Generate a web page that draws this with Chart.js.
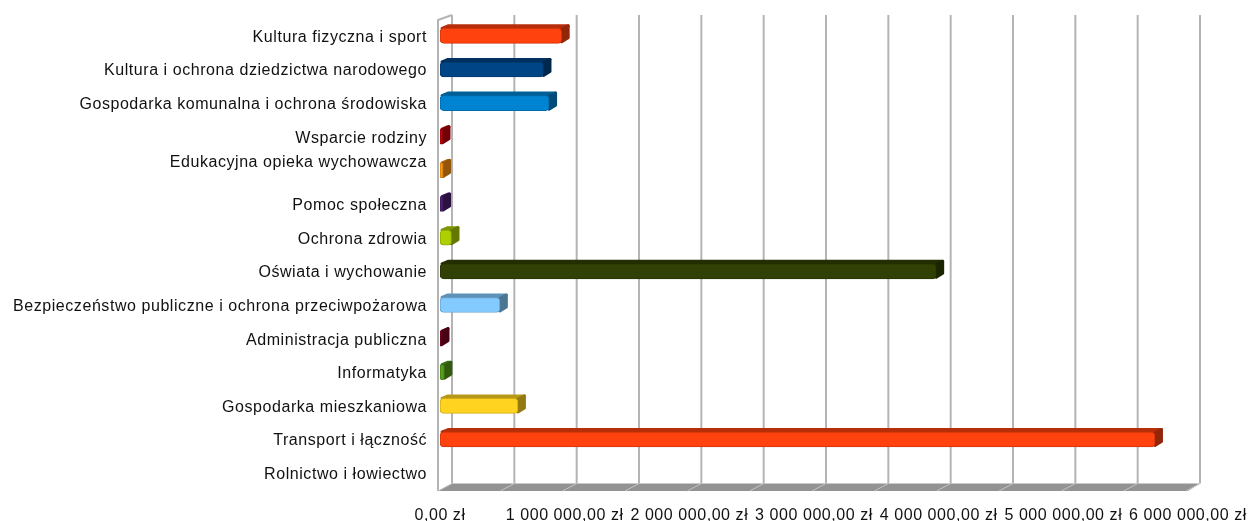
<!DOCTYPE html>
<html><head><meta charset="utf-8">
<script src="https://cdn.jsdelivr.net/npm/chart.js@4"></script>
<style>html,body{margin:0;padding:0;background:#fff}canvas{display:block;filter:blur(.45px)}</style>
</head><body><canvas id="c" width="1248" height="521"></canvas>
<script>
const categories = ["Kultura fizyczna i sport","Kultura i ochrona dziedzictwa narodowego","Gospodarka komunalna i ochrona środowiska","Wsparcie rodziny","Edukacyjna opieka wychowawcza","Pomoc społeczna","Ochrona zdrowia","Oświata i wychowanie","Bezpieczeństwo publiczne i ochrona przeciwpożarowa","Administracja publiczna","Informatyka","Gospodarka mieszkaniowa","Transport i łączność","Rolnictwo i łowiectwo"];
const values = [976000,830000,875000,20000,25000,25000,92000,3980000,480000,12000,35000,625000,5735000,0];
const colors = ["#ff420e","#004586","#0084d1","#c5000b","#ff950e","#4b1f6f","#aecf00","#314004","#83caff","#7e0021","#579d1c","#ffd320","#ff420e","#004586"];
const wrappedLabels = ["Edukacyjna opieka wychowawcza"];

function shade(hex,f){const n=parseInt(hex.slice(1),16);
  return `rgb(${(n>>16&255)*f|0},${(n>>8&255)*f|0},${(n&255)*f|0})`;}

const DX=12, DY=7, TOP=15, BACK_BOTTOM=483.5;
const scene3d={id:'scene3d',
  beforeDraw(ch){ch.ctx.letterSpacing='0.56px';},
  beforeDatasetsDraw(ch){
    const c=ch.ctx,x=ch.scales.x,a=ch.chartArea;
    c.save();
    c.fillStyle='#939393';
    c.beginPath();c.moveTo(a.left-2,a.bottom+1);c.lineTo(a.left+DX,BACK_BOTTOM);c.lineTo(a.right+DX,BACK_BOTTOM);c.lineTo(a.right,a.bottom+1);c.closePath();c.fill();
    c.strokeStyle='#b4b4b4';c.lineWidth=2;
    x.ticks.forEach(t=>{const p=x.getPixelForValue(t.value)+DX;
      c.beginPath();c.moveTo(p,TOP);c.lineTo(p,BACK_BOTTOM);c.stroke();});
    c.beginPath();c.moveTo(a.left+DX,TOP);c.lineTo(a.left-2,20);c.lineTo(a.left-2,a.bottom+1);c.stroke();
    c.strokeStyle='#c4c4c4';c.lineWidth=1;
    x.ticks.forEach(t=>{const p=x.getPixelForValue(t.value);
      c.beginPath();c.moveTo(p+DX,BACK_BOTTOM);c.lineTo(p-2,a.bottom+1);c.stroke();});
    const dx=8,dy=4;
    ch.getDatasetMeta(0).data.forEach((b,i)=>{
      if(!values[i])return;
      const col=colors[i],t=b.y-b.height/2,bt=b.y+b.height/2,l=b.base,r=b.x;
      c.lineJoin='round';c.lineWidth=3;
      c.fillStyle=c.strokeStyle=shade(col,.72);
      c.beginPath();c.moveTo(l+2,t);c.lineTo(l+dx,t-dy+1.5);c.lineTo(r+dx-1.5,t-dy+1.5);c.lineTo(r,t+2);c.closePath();c.fill();c.stroke();
      c.fillStyle=c.strokeStyle=shade(col,.58);
      c.beginPath();c.moveTo(r,t+1);c.lineTo(r+dx-1.5,t-dy+1.5);c.lineTo(r+dx-1.5,bt-dy-1.5);c.lineTo(r,bt-1.5);c.closePath();c.fill();c.stroke();
    });
    c.restore();
  }};

new Chart(document.getElementById('c'),{
  type:'bar',
  data:{labels:categories,datasets:[{data:values,backgroundColor:colors,
    borderColor:colors.map(k=>shade(k,.82)),borderWidth:1,borderSkipped:false,borderRadius:4,barThickness:15}]},
  plugins:[scene3d],
  options:{indexAxis:'y',responsive:false,animation:false,
    layout:{padding:{top:19,left:0,right:60,bottom:0}},
    plugins:{legend:{display:false},title:{display:false},tooltip:{enabled:false}},
    scales:{
      x:{min:0,max:6000000,afterFit(s){s.height=31;s.paddingRight=0;s.paddingLeft=0;},
        grid:{display:false},border:{display:false},
        ticks:{stepSize:500000,autoSkip:false,maxRotation:0,padding:8,color:'#111',
          font:{family:'"Liberation Sans"',size:16},
          callback(v){if(v%1000000)return '';
            return String(v).replace(/\B(?=(\d{3})+$)/g,' ')+',00 zł';}}},
      y:{afterFit(s){s.width=440;},
        grid:{display:false},border:{display:false},
        ticks:{padding:5,autoSkip:false,color:'#111',labelOffset:1.5,
          font:{family:'"Liberation Sans"',size:16},
          callback(v){const n=categories[v];return wrappedLabels.includes(n)?[n,'']:n;}}}
    }}
});
</script></body></html>
